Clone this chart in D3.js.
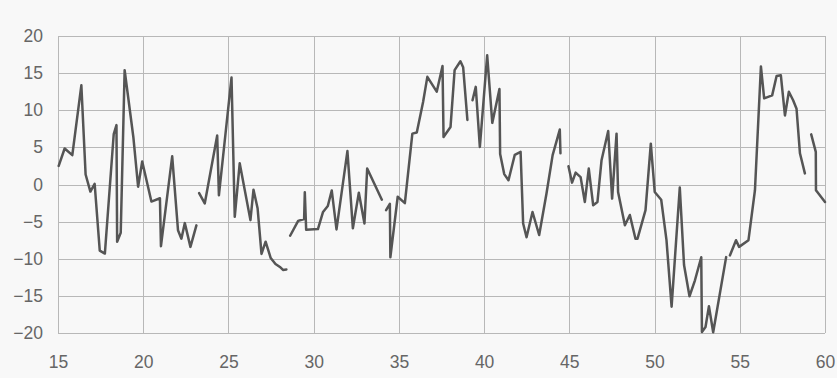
<!DOCTYPE html>
<html>
<head>
<meta charset="utf-8">
<script src="https://cdn.jsdelivr.net/npm/d3@7/dist/d3.min.js"></script>
<style>
  html, body { margin: 0; padding: 0; background: #f8f8f8; }
  svg { display: block; }
  .tick text { font-family: "Liberation Sans", Arial, sans-serif; fill: #666; }
</style>
</head>
<body>
<svg id="chart" width="837" height="378"></svg>
<script>
// Series samples; a null marks a break in the recorded trace.
const time = [
  15.04, 15.39, 15.84, 16.37, 16.62, 16.9, 17.15, 17.45, 17.75, 18.27, 18.43, 18.47, 18.68, 18.91, 19.42, 19.7, 19.94, 20.48, 20.98, 21.04, 21.7, 22.04, 22.24, 22.44, 22.77, 23.12,
  null,
  23.28, 23.61, 24.34, 24.44, 25.18, 25.37, 25.66, 26.29, 26.47, 26.71, 26.94, 27.18, 27.48, 27.76, 28.02, 28.2, 28.4,
  null,
  28.62, 29.09, 29.44, 29.48, 29.56, 30.25, 30.55, 30.83, 31.06, 31.34, 31.98, 32.3, 32.65, 32.98, 33.14, 34.0,
  null,
  34.25, 34.47, 34.5, 34.93, 35.35, 35.79, 36.05, 36.42, 36.67, 37.22, 37.56, 37.62, 38.03, 38.27, 38.61, 38.77, 39.02,
  null,
  39.32, 39.51, 39.75, 40.18, 40.48, 40.9, 40.94, 41.18, 41.43, 41.8, 42.14, 42.29, 42.49, 42.84, 43.23, 43.66, 44.02, 44.44, 44.48,
  null,
  44.95, 45.16, 45.37, 45.66, 45.91, 46.14, 46.4, 46.65, 46.89, 47.28, 47.51, 47.77, 47.86, 48.26, 48.55, 48.88, 49.0, 49.47, 49.78, 50.01, 50.39, 50.7, 51.0, 51.48, 51.73, 52.05, 52.37, 52.74, 52.78, 52.99, 53.19, 53.44, 54.2,
  null,
  54.42, 54.78, 54.96, 55.51, 55.89, 56.24, 56.43, 56.9, 57.16, 57.41, 57.65, 57.88, 58.13, 58.33, 58.53, 58.82,
  null,
  59.19, 59.46, 59.47, 60.0
];
const value = [
  2.5, 4.85, 3.95, 13.36, 1.35, -0.95, 0.1, -8.9, -9.3, 6.8, 8.0, -7.7, -6.5, 15.4, 6.4, -0.3, 3.1, -2.3, -1.85, -8.3, 3.8, -6.15, -7.3, -5.2, -8.4, -5.5,
  null,
  -1.15, -2.55, 6.6, -1.45, 14.4, -4.35, 2.85, -4.8, -0.7, -3.2, -9.35, -7.7, -9.9, -10.7, -11.1, -11.5, -11.45,
  null,
  -6.9, -4.9, -4.65, -1.05, -6.1, -6.0, -3.7, -2.9, -0.8, -6.05, 4.5, -5.9, -1.1, -5.25, 2.15, -2.05,
  null,
  -3.45, -2.6, -9.8, -1.65, -2.5, 6.85, 7.0, 11.1, 14.5, 12.5, 15.95, 6.4, 7.75, 15.4, 16.6, 15.8, 8.7,
  null,
  11.35, 13.15, 5.05, 17.4, 8.3, 12.85, 4.1, 1.4, 0.58, 4.0, 4.4, -5.25, -7.1, -3.7, -6.8, -1.2, 3.95, 7.4, 4.2,
  null,
  2.45, 0.25, 1.6, 1.0, -2.35, 2.15, -2.8, -2.35, 3.27, 7.2, -1.9, 6.85, -1.0, -5.5, -4.1, -7.3, -7.3, -3.45, 5.5, -1.0, -2.05, -7.5, -16.45, -0.4, -10.85, -15.05, -12.9, -9.8, -19.85, -19.2, -16.4, -19.9, -9.78,
  null,
  -9.55, -7.5, -8.4, -7.5, -0.77, 15.9, 11.6, 12.0, 14.6, 14.7, 9.3, 12.5, 11.35, 10.2, 4.2, 1.5,
  null,
  6.75, 4.4, -0.77, -2.35
];
const xTicks = [15, 20, 25, 30, 35, 40, 45, 50, 55, 60];
const yTicks = [-20, -15, -10, -5, 0, 5, 10, 15, 20];

const svg = d3.select("#chart");
const margin = { left: 58, right: 12, top: 36, bottom: 45 };
const W = 837, H = 378;

const x = d3.scaleLinear().domain([15, 60]).range([margin.left, W - margin.right]);
const y = d3.scaleLinear().domain([-20, 20]).range([H - margin.bottom, margin.top]);

// Grid lines
const grid = svg.append("g").attr("stroke", "#b8b8b8").attr("stroke-width", 1).attr("shape-rendering", "crispEdges");
grid.selectAll("line.h").data(yTicks).join("line")
  .attr("class", "h")
  .attr("x1", x(15)).attr("x2", x(60))
  .attr("y1", d => Math.round(y(d)) + 0.5).attr("y2", d => Math.round(y(d)) + 0.5);
grid.selectAll("line.v").data(xTicks).join("line")
  .attr("class", "v")
  .attr("y1", y(-20)).attr("y2", y(20))
  .attr("x1", d => Math.round(x(d)) + 0.5).attr("x2", d => Math.round(x(d)) + 0.5);

// Axes (labels only)
const yAxis = d3.axisLeft(y).tickValues(yTicks).tickSize(0).tickPadding(15);
const gy = svg.append("g").attr("transform", `translate(${margin.left},0)`).call(yAxis);
gy.select(".domain").remove();
gy.selectAll("text").attr("font-size", 17.5);

const xAxis = d3.axisBottom(x).tickValues(xTicks).tickSize(0).tickPadding(23);
const gx = svg.append("g").attr("transform", `translate(0,${y(-20)})`).call(xAxis);
gx.select(".domain").remove();
gx.selectAll("text").attr("font-size", 17.5);

// Series line
const points = time.map((t, i) => ({ t, v: value[i] }));
const line = d3.line()
  .defined(d => d.t !== null && d.v !== null)
  .x(d => x(d.t))
  .y(d => y(d.v));

svg.append("path")
  .datum(points)
  .attr("fill", "none")
  .attr("stroke", "#555")
  .attr("stroke-width", 2.5)
  .attr("stroke-linejoin", "round")
  .attr("stroke-linecap", "round")
  .attr("d", line);
</script>
</body>
</html>
